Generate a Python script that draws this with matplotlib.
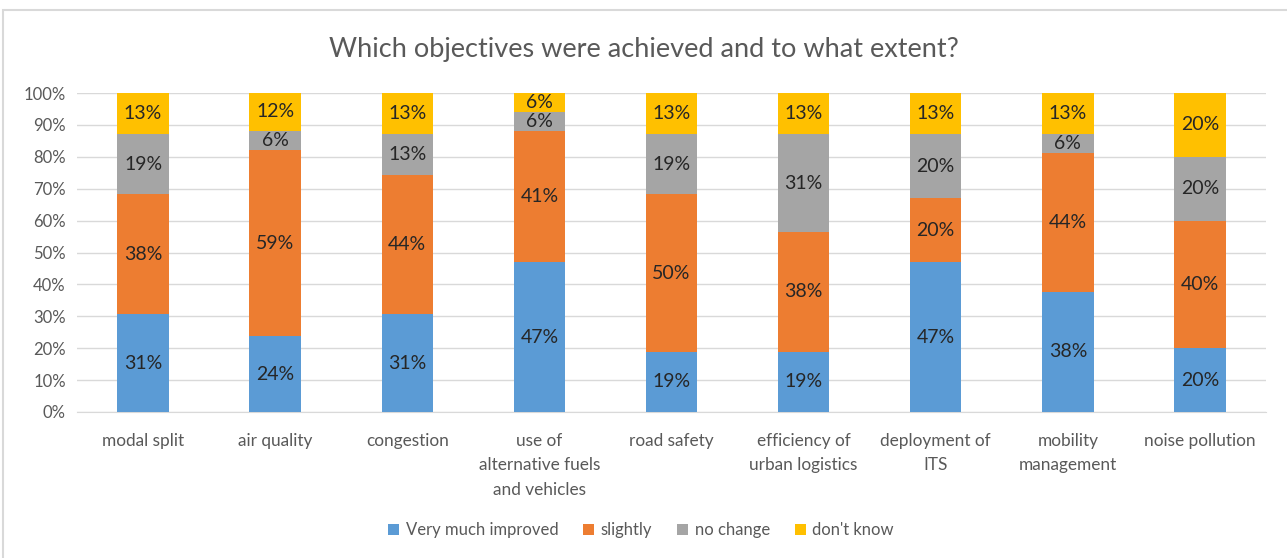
import numpy as np
import matplotlib.pyplot as plt
from matplotlib.patches import Rectangle

plt.rcParams['font.family'] = ['Lato', 'DejaVu Sans']

categories = ['modal split', 'air quality', 'congestion',
              'use of\nalternative fuels\nand vehicles', 'road safety',
              'efficiency of\nurban logistics', 'deployment of\nITS',
              'mobility\nmanagement', 'noise pollution']
series = ['Very much improved', 'slightly', 'no change', "don't know"]
very_much = [31, 24, 31, 47, 19, 19, 47, 38, 20]
slightly  = [38, 59, 44, 41, 50, 38, 20, 44, 40]
no_change = [19,  6, 13,  6, 19, 31, 20,  6, 20]
dont_know = [13, 12, 13,  6, 13, 13, 13, 13, 20]
colors = ['#5B9BD5', '#ED7D31', '#A5A5A5', '#FFC000']

values = np.array([very_much, slightly, no_change, dont_know], dtype=float)
# labels are rounded, so scale each column to a full 100%
shares = values / values.sum(axis=0) * 100.0

fig = plt.figure(figsize=(12.87, 5.58), dpi=100)
fig.patches.append(Rectangle((3 / 1287, -0.1), 1.1, (558 - 10) / 558 + 0.1,
                             transform=fig.transFigure, fill=False,
                             edgecolor='#D9D9D9', linewidth=1.5))

ax = fig.add_axes([77 / 1287, 1 - 412 / 558, (1266 - 77) / 1287, (412 - 93) / 558])
x = np.arange(len(categories))
bottom = np.zeros(len(categories))
for i, name in enumerate(series):
    ax.bar(x, shares[i], 0.39, bottom=bottom, color=colors[i], label=name, zorder=3)
    for j in range(len(categories)):
        ax.text(x[j], bottom[j] + shares[i][j] / 2, '%d%%' % values[i][j],
                ha='center', va='center', fontsize=14, color='#262626', zorder=4)
    bottom += shares[i]

ax.set_xlim(-0.5, len(categories) - 0.5)
ax.set_ylim(0, 100)
ax.set_yticks(range(0, 101, 10))
ax.set_yticklabels(['%d%%' % v for v in range(0, 101, 10)])
ax.set_xticks(x)
ax.set_xticklabels(categories, linespacing=1.65)
ax.tick_params(axis='y', length=0, labelsize=12, colors='#595959', pad=8)
ax.tick_params(axis='x', length=0, labelsize=12.4, colors='#595959', pad=15)
ax.grid(axis='y', color='#D9D9D9', linewidth=1, zorder=0)
for s in ['top', 'right', 'left']:
    ax.spines[s].set_visible(False)
ax.spines['bottom'].set_color('#D9D9D9')

fig.text(0.5, 1 - 49 / 558, 'Which objectives were achieved and to what extent?',
         ha='center', va='center', fontsize=19.5, color='#595959')

fig.legend(loc='center', bbox_to_anchor=(641 / 1287, 1 - 530 / 558), ncol=4,
           frameon=False, fontsize=12, labelcolor='#595959', handlelength=0.65,
           handleheight=0.65, handletextpad=0.4, columnspacing=1.5)

fig.savefig('out.png', dpi=100)
